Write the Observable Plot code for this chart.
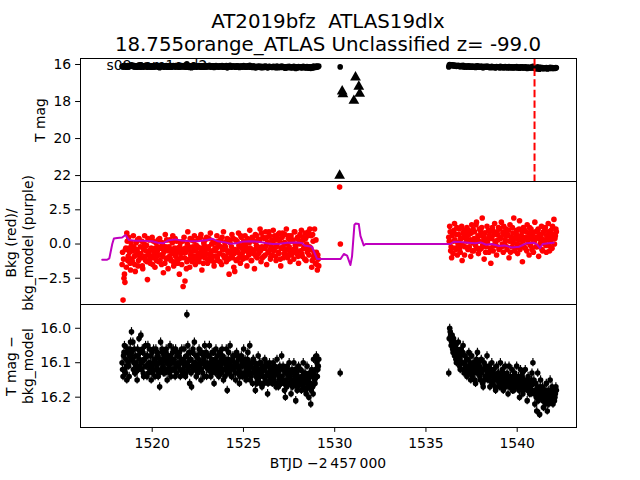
<!DOCTYPE html>
<html><head><meta charset="utf-8">
<script src="https://cdn.jsdelivr.net/npm/d3@7"></script>
<script src="https://cdn.jsdelivr.net/npm/@observablehq/plot@0.6"></script>
<style>
body{margin:0;background:#fff;}
#fig{position:relative;width:640px;height:480px;font-family:"DejaVu Sans",sans-serif;color:#000;overflow:hidden;background:#fff}
.pan{position:absolute;left:0}
.ylab{position:absolute;white-space:pre;text-align:center;font-size:13.9px;line-height:16.7px;transform:translate(-50%,-50%) rotate(-90deg)}
.title{position:absolute;left:328px;top:9.5px;transform:translateX(-50%);white-space:pre;text-align:center;font-size:19.8px;line-height:23px}
.xlab{position:absolute;left:328px;top:462.5px;transform:translate(-50%,-50%);white-space:pre;font-size:13.9px;line-height:16.7px}
</style></head><body><div id="fig"></div>
<script>
// ---------------- data ----------------
const titleLines = ["AT2019bfz  ATLAS19dlx", "18.755orange_ATLAS Unclassified z= -99.0"];
const sectorLabel = "s08 cam1ccd2";
const xLabel = "BTJD \u22122\u2009457\u2009000";

const seg1Start = 1518.35, seg1End = 1529.10;
const seg2Start = 1536.25, seg2End = 1542.12;

// T mag (and T mag - bkg_model), orbit 1, even cadences
const seg1Mag = [
16.10,16.14,16.07,16.12,16.09,16.15,16.06,16.11,16.08,16.04,
16.01,16.09,16.12,16.06,16.13,16.10,16.15,16.08,16.03,16.11,
16.02,16.12,16.07,16.14,16.09,16.05,16.11,16.08,16.13,16.06,
16.10,16.15,16.07,16.12,16.09,16.14,16.06,16.11,16.08,16.13,
16.17,16.04,16.10,16.07,16.13,16.09,16.12,16.06,16.15,16.08,
16.11,16.05,16.14,16.09,16.07,16.12,16.10,16.06,16.13,16.08,
16.11,16.07,16.14,16.09,16.10,16.12,16.06,16.10,16.13,15.96,
16.05,16.11,16.16,16.09,16.17,16.07,16.12,16.04,16.10,16.14,
16.08,16.12,16.06,16.10,16.15,16.07,16.13,16.09,16.05,16.11,
16.14,16.08,16.12,16.05,16.10,16.13,16.07,16.11,16.16,16.09,
16.06,16.12,16.10,16.14,16.07,16.11,16.13,16.08,16.15,16.10,
16.12,16.06,16.18,16.09,16.13,16.05,16.11,16.14,16.08,16.12,
16.10,16.15,16.07,16.13,16.09,16.16,16.11,16.08,16.14,16.10,
16.13,16.09,16.15,16.11,16.07,16.12,16.05,16.14,16.10,16.16,
16.09,16.13,16.18,16.11,16.15,16.08,16.12,16.14,16.10,16.17,
16.12,16.16,16.09,16.14,16.11,16.19,16.13,16.10,16.15,16.12,
16.16,16.10,16.14,16.12,16.17,16.09,16.13,16.15,16.11,16.14,
16.08,16.15,16.12,16.18,16.20,16.13,16.11,16.16,16.10,16.14,
16.19,16.12,16.16,16.10,16.14,16.21,16.13,16.17,16.11,16.15,
16.12,16.18,16.14,16.10,16.16,16.13,16.19,16.11,16.15,16.20,
16.14,16.22,16.12,16.17,16.09,16.15,16.12,16.08,16.14,16.11];
// orbit 1, odd cadences
const seg1MagB = [
16.12,16.08,16.05,16.13,16.11,16.07,16.10,16.14,16.06,16.09,
16.07,16.04,16.10,16.13,16.08,16.11,16.06,16.12,16.09,16.07,
16.10,16.06,16.13,16.09,16.11,16.08,16.14,16.05,16.10,16.12,
16.08,16.11,16.13,16.06,16.10,16.09,16.12,16.07,16.14,16.10,
16.09,16.12,16.06,16.11,16.08,16.13,16.07,16.10,16.12,16.09,
16.13,16.08,16.10,16.12,16.06,16.09,16.14,16.11,16.07,16.10,
16.08,16.12,16.10,16.06,16.13,16.09,16.11,16.14,16.08,16.10,
16.12,16.07,16.09,16.13,16.11,16.06,16.10,16.12,16.08,16.11,
16.13,16.09,16.11,16.07,16.12,16.10,16.08,16.14,16.11,16.07,
16.10,16.12,16.08,16.11,16.14,16.09,16.12,16.07,16.10,16.13,
16.11,16.08,16.13,16.10,16.12,16.09,16.06,16.12,16.10,16.14,
16.09,16.11,16.13,16.07,16.10,16.12,16.14,16.09,16.11,16.08,
16.13,16.11,16.10,16.08,16.12,16.14,16.09,16.13,16.11,16.06,
16.10,16.14,16.12,16.09,16.13,16.10,16.15,16.11,16.13,16.09,
16.12,16.10,16.14,16.16,16.12,16.13,16.10,16.16,16.13,16.11,
16.14,16.12,16.15,16.10,16.13,16.16,16.11,16.14,16.12,16.15,
16.13,16.15,16.11,16.16,16.13,16.12,16.17,16.14,16.12,16.16,
16.14,16.11,16.16,16.13,16.15,16.17,16.12,16.14,16.16,16.13,
16.15,16.17,16.13,16.16,16.12,16.15,16.18,16.14,16.16,16.12,
16.16,16.14,16.17,16.13,16.15,16.18,16.14,16.16,16.17,16.13,
16.16,16.18,16.14,16.19,16.13,16.16,16.14,16.10,16.12,16.09];

// orbit 2, even cadences
const seg2Mag = [
16.13,16.00,16.02,16.04,16.06,16.03,16.08,16.05,16.10,16.07,
16.04,16.09,16.12,16.06,16.10,16.05,16.13,16.08,16.11,16.14,
16.09,16.07,16.12,16.15,16.08,16.11,16.13,16.10,16.16,16.09,
16.07,16.13,16.11,16.15,16.09,16.12,16.17,16.10,16.14,16.12,
16.08,16.15,16.11,16.17,16.13,16.10,16.16,16.12,16.14,16.18,
16.11,16.15,16.13,16.17,16.10,16.14,16.12,16.18,16.15,16.11,
16.16,16.13,16.19,16.11,16.15,16.17,16.12,16.14,16.18,16.13,
16.15,16.11,16.17,16.14,16.20,16.12,16.16,16.13,16.18,16.15,
16.12,16.17,16.21,16.14,16.16,16.16,16.19,16.13,16.10,16.15,
16.22,16.16,16.24,16.13,16.18,16.25,16.15,16.20,16.17,16.23,
16.19,16.22,16.16,16.24,16.18,16.21,16.15,16.19,16.17,16.22,
16.18,16.20,16.17];
// orbit 2, odd cadences
const seg2MagB = [
16.03,16.01,16.05,16.02,16.07,16.04,16.06,16.09,16.06,16.08,
16.07,16.11,16.08,16.10,16.07,16.12,16.10,16.13,16.09,16.12,
16.11,16.13,16.10,16.12,16.14,16.10,16.12,16.15,16.11,16.13,
16.12,16.10,16.14,16.12,16.13,16.16,16.12,16.15,16.11,16.14,
16.13,16.12,16.15,16.14,16.12,16.16,16.13,16.15,16.17,16.14,
16.15,16.13,16.16,16.14,16.17,16.15,16.13,16.16,16.14,16.17,
16.14,16.16,16.15,16.17,16.14,16.16,16.18,16.15,16.16,16.17,
16.14,16.17,16.16,16.18,16.15,16.17,16.14,16.19,16.16,16.17,
16.17,16.15,16.18,16.16,16.19,16.17,16.15,16.18,16.16,16.19,
16.18,16.20,16.17,16.21,16.19,16.17,16.20,16.18,16.21,16.19,
16.20,16.18,16.21,16.19,16.22,16.20,16.18,16.21,16.19,16.20,
16.21,16.19,16.18];

const magErr = 0.012;

// background flux (red)
const seg1Bkg = [
-1.5,-4.1,-2.5,-2.8,-0.3,0.8,-1.2,0.5,-0.6,-1.9,
-0.2,-1.3,0.6,-0.9,-2.0,0.1,-0.5,-1.6,0.4,-1.0,
-0.7,0.2,-1.8,-0.4,0.6,-1.2,-0.1,-2.6,-0.8,0.3,
-1.4,-0.3,0.5,-1.0,-0.6,-1.7,0.1,-0.9,-0.2,-1.3,
0.4,-0.8,-1.5,-0.1,-2.1,-0.5,0.7,-1.1,-0.4,-1.8,
-0.2,0.3,-1.2,-0.7,0.6,-1.6,-0.3,-0.9,0.2,-1.4,
-0.5,-2.2,0.1,-1.0,-0.4,-3.1,0.5,-2.7,-0.6,-1.3,
0.9,-0.2,-1.7,-0.8,0.3,-1.1,-0.5,0.6,-1.5,-0.1,
-0.9,0.4,-1.3,-0.3,0.7,-1.9,-0.6,0.1,-1.0,-0.4,
0.5,-1.4,-0.2,-0.8,0.8,-1.1,-0.5,0.2,-1.6,-0.3,
-0.9,0.6,-1.2,-0.1,-0.7,0.3,-1.5,-0.4,0.9,-1.0,
-0.2,-1.3,0.4,-0.6,-2.2,0.1,-0.9,0.7,-0.4,-1.7,
-2.0,0.3,-0.5,-1.1,0.8,-0.2,-1.4,0.5,-0.7,-0.1,
-1.0,0.6,-0.3,-1.6,0.2,-0.8,1.0,-0.4,-1.2,0.4,
-0.6,-1.8,0.7,-0.1,-1.0,0.3,-0.5,1.1,-1.3,-0.2,
0.5,-0.9,-0.3,0.9,-1.5,0.1,-0.6,0.6,-1.1,-0.2,
-0.8,1.0,-0.4,0.3,-1.2,-0.1,0.7,-0.7,0.2,-1.6,
-0.3,0.8,-1.0,0.1,-0.5,1.1,-0.8,0.4,-0.2,-1.3,
0.6,-0.6,0.2,-1.1,0.9,-0.3,-0.7,0.5,-1.4,0.0,
-0.5,1.0,-0.9,0.3,-0.2,0.8,-1.2,-0.4,0.6,-0.8,
1.1,-0.3,-1.7,0.7,-0.9,1.1,-1.4,-0.6,-1.9,-1.1];
const seg1BkgB = [
-0.6,-1.1,-2.2,-0.4,-1.7,0.2,-0.9,-0.3,-1.4,0.1,
-1.1,-0.5,-0.2,-1.5,-0.8,-0.4,0.3,-1.2,-0.7,-0.2,
-1.0,-1.6,-0.3,0.0,-0.9,-0.5,-1.3,0.4,-0.6,-1.1,
-0.4,-0.9,-1.5,0.2,-0.7,-0.3,-1.2,-0.5,0.3,-0.8,
-1.2,-0.3,0.1,-0.9,-0.6,-1.4,-0.2,0.3,-1.0,-0.5,
-0.9,-1.1,-0.4,0.1,-1.3,-0.6,0.4,-0.8,-1.2,-0.3,
-1.1,-0.2,-0.7,-1.5,0.2,-0.6,-1.0,-0.3,-1.8,0.0,
-0.4,-1.1,0.4,-0.6,-1.3,-0.2,0.2,-0.9,-0.5,-1.2,
-0.2,-0.7,-1.0,0.5,-0.4,-0.8,-1.4,-0.1,0.3,-0.7,
-1.1,-0.3,0.4,-1.2,-0.6,0.0,-0.9,-1.3,0.1,-0.5,
-0.3,-1.0,0.2,-0.7,-1.3,-0.2,0.5,-0.8,-0.4,0.1,
-0.9,0.2,-0.5,-1.1,0.3,-0.6,-0.2,-1.0,0.4,-0.7,
-0.4,-1.2,0.2,-0.6,-0.1,-0.9,0.6,-0.3,-1.1,0.2,
-0.5,-0.1,-1.0,0.4,-0.6,0.1,-0.3,-1.2,0.5,-0.7,
0.2,-0.4,-0.9,0.6,-0.2,-0.7,0.3,-0.5,0.8,-1.0,
-0.3,0.4,-0.8,-0.1,0.5,-0.6,0.9,-0.4,-0.9,0.3,
0.1,-0.5,0.6,-0.9,-0.2,0.4,-0.6,0.8,-1.1,-0.3,
0.5,-0.2,-0.7,0.7,-0.4,0.0,-1.0,0.6,-0.5,0.2,
-0.8,0.3,-0.4,0.9,-0.1,-0.6,0.4,-0.9,0.1,0.7,
0.2,-0.7,0.5,-0.3,-1.1,0.4,0.0,-0.6,0.9,-0.2,
-0.4,0.6,-1.2,0.2,-0.6,-1.0,0.3,-1.5,-0.8,-1.6];

const seg2Bkg = [
0.5,1.3,-0.5,-1.0,0.9,0.2,1.5,-0.3,0.7,-0.8,
0.0,1.1,-0.6,0.4,-1.2,0.8,1.0,-0.2,0.5,1.2,
-0.4,0.7,0.2,-0.9,1.4,0.1,-0.5,0.9,-0.1,1.6,
0.3,-0.7,1.1,0.6,-0.3,1.9,0.2,-1.1,0.8,-0.2,
1.3,0.4,-0.6,0.9,-1.4,0.5,1.0,-0.1,1.5,0.2,
-0.8,0.7,1.2,-0.3,0.4,1.6,0.0,-0.6,0.9,0.3,
1.1,-0.4,0.6,-1.0,1.4,0.2,-0.2,0.8,1.9,-0.5,
0.5,1.0,-0.7,0.3,1.7,-0.1,0.6,-1.3,1.2,0.4,
-0.3,0.9,1.4,0.1,-0.8,0.6,1.1,-0.4,0.8,0.2,
1.6,-0.2,0.5,1.0,-0.9,0.7,0.3,1.3,-0.5,0.9,
0.1,1.2,-0.6,0.6,1.5,-0.1,0.4,1.0,-0.3,0.7,
1.8,0.4,1.1];
const seg2BkgB = [
0.2,0.9,-0.2,0.6,-0.7,1.0,0.3,-0.4,1.2,0.1,
0.7,-0.3,0.4,1.3,-0.1,0.5,-0.8,0.9,0.2,0.6,
1.0,-0.2,0.3,0.8,-0.5,1.1,0.4,0.0,1.4,-0.3,
0.6,0.2,-0.4,0.9,1.2,-0.1,0.5,0.8,-0.6,0.3,
0.1,1.0,0.6,-0.3,0.4,1.2,-0.5,0.7,0.2,-0.1,
0.9,0.3,-0.4,1.1,0.5,-0.2,0.8,1.3,0.0,0.6,
-0.2,0.7,1.0,0.2,-0.6,0.5,1.2,0.1,0.4,-0.3,
0.8,0.0,0.6,1.1,-0.4,0.3,0.9,0.2,-0.2,1.0,
0.5,-0.5,0.3,0.8,1.2,-0.1,0.4,0.7,-0.6,0.2,
0.9,0.4,-0.2,1.1,0.6,0.0,0.5,-0.4,0.8,0.3,
1.0,-0.1,0.6,0.3,0.9,-0.5,0.2,0.7,1.3,0.4,
0.0,0.6,0.9];

// isolated points in the gap
const gapT = [1530.30];
const gapMag = [16.13];
const gapBkgT = [1530.27, 1530.31];
const gapBkg = [4.16, 0.0];

// ATLAS points (triangles)
const atlasT = [1530.27, 1530.41, 1530.45, 1531.05, 1531.14, 1531.32, 1531.37];
const atlasMag = [22.0, 17.45, 17.6, 17.95, 16.69, 17.19, 17.58];

// background model (purple)
const modelT = [1517.26,1517.53,1517.65,1517.81,1517.9,1518.08,1518.35,1518.54,1518.72,1519.08,1519.5,1520.0,1520.3,1520.6,1520.9,1521.3,1521.6,1522.0,1522.5,1523.0,1523.3,1523.6,1524.0,1524.3,1524.6,1524.9,1525.3,1525.8,1526.3,1526.6,1527.0,1527.4,1527.9,1528.2,1528.35,1528.75,1529.04,1530.32,1530.5,1530.68,1530.86,1530.95,1531.08,1531.14,1531.32,1531.41,1531.59,1531.69,1536.34,1536.52,1536.9,1537.3,1537.7,1538.0,1538.3,1538.6,1539.0,1539.3,1539.7,1540.1,1540.5,1540.9,1541.1,1541.25,1541.4,1541.7,1542.0];
const modelV = [-1.15,-1.15,-1.05,0.0,0.4,0.44,0.48,0.66,0.3,0.24,0.24,0.2,0.1,0.05,0.28,0.34,0.26,0.22,0.2,0.3,0.38,0.2,0.12,0.02,0.05,0.17,0.2,0.17,0.05,0.0,0.02,0.1,0.12,0.08,-0.1,-0.2,-1.1,-1.1,-0.73,-0.85,-1.53,-0.9,1.4,1.5,1.46,0.6,-0.1,0.0,0.0,0.17,0.15,0.1,0.05,0.12,-0.05,0.0,-0.15,-0.1,-0.25,-0.2,0.05,0.1,-0.05,-0.3,0.0,0.05,0.1];

const discoveryT = [1540.95];

const xTicks = [1520, 1525, 1530, 1535, 1540];
const y1Ticks = [16, 18, 20, 22];
const y2Ticks = [-2.5, 0, 2.5];
const y3Ticks = [16.0, 16.1, 16.2];

// ---------------- build ----------------
function orbit(start, end, magA, magB, bkgA, bkgB) {
  const n = magA.length, step = (end - start) / (n - 1);
  const out = [];
  for (let i = 0; i < n; i++) {
    out.push({t: start + i * step, mag: magA[i], bkg: bkgA[i]});
    out.push({t: start + (i + 0.5) * step, mag: magB[i], bkg: bkgB[i]});
  }
  return out;
}
const lc = [
  ...orbit(seg1Start, seg1End, seg1Mag, seg1MagB, seg1Bkg, seg1BkgB),
  ...orbit(seg2Start, seg2End, seg2Mag, seg2MagB, seg2Bkg, seg2BkgB)
];
const gapPts = gapT.map((t, i) => ({t, mag: gapMag[i]}));
const lcAll = [...lc, ...gapPts];
const bkgPts = [...lc.map(d => ({t: d.t, v: d.bkg})), ...gapBkgT.map((t, i) => ({t, v: gapBkg[i]}))];
const atlas = atlasT.map((t, i) => ({t, mag: atlasMag[i]}));
const model = modelT.map((t, i) => ({t, v: modelV[i]}));

const fig = document.getElementById("fig");
const W = 640, ML = 80, MR = 64, PH = 123;
const xScale = {domain: [1516.07, 1543.25], axis: null};
const style = {fontFamily: "DejaVu Sans", fontSize: "13.9px", background: "transparent", overflow: "visible"};
const fmt1 = d => (d < 0 ? "\u2212" : "") + Math.abs(d).toFixed(1);
const axY = (ticks, tf) => Plot.axisY(ticks, {anchor: "left", tickSize: 4.9, tickPadding: 4.5, tickFormat: tf, label: null});

function place(svg, top) {
  svg.classList.add("pan");
  svg.style.top = top + "px";
  fig.appendChild(svg);
}

// Panel 1
place(Plot.plot({
  width: W, height: PH, marginLeft: ML, marginRight: MR, marginTop: 0, marginBottom: 0,
  style, x: xScale,
  y: {domain: [15.676, 22.32], reverse: true, axis: null},
  marks: [
    Plot.text([sectorLabel], {frameAnchor: "top-left", dx: 26, dy: 7.5, textAnchor: "start", lineAnchor: "middle", fontSize: 13.9, fill: "black"}),
    Plot.ruleX(lcAll, {x: "t", y1: d => d.mag - magErr, y2: d => d.mag + magErr, stroke: "black", strokeWidth: 1.2}),
    Plot.dot(lcAll, {x: "t", y: "mag", r: 2.8, fill: "black"}),
    Plot.dot(atlas, {x: "t", y: "mag", r: 4, symbol: "triangle", fill: "black"}),
    Plot.ruleX(discoveryT, {stroke: "red", strokeWidth: 2, strokeDasharray: "7.4,3.2"}),
    Plot.frame({stroke: "black", strokeWidth: 1}),
    axY(y1Ticks, d => String(d))
  ]
}), 58);

// Panel 2
place(Plot.plot({
  width: W, height: PH, marginLeft: ML, marginRight: MR, marginTop: 0, marginBottom: 0,
  style, x: xScale,
  y: {domain: [-4.42, 4.57], axis: null},
  marks: [
    Plot.dot(bkgPts, {x: "t", y: "v", r: 2.8, fill: "#ff0000"}),
    Plot.line(model, {x: "t", y: "v", stroke: "#bf00bf", strokeWidth: 2}),
    Plot.frame({stroke: "black", strokeWidth: 1}),
    axY(y2Ticks, fmt1)
  ]
}), 181);

// Panel 3
place(Plot.plot({
  width: W, height: PH + 40, marginLeft: ML, marginRight: MR, marginTop: 0, marginBottom: 40,
  style, x: xScale,
  y: {domain: [15.931, 16.288], reverse: true, axis: null},
  marks: [
    Plot.ruleX(lcAll, {x: "t", y1: d => d.mag - magErr, y2: d => d.mag + magErr, stroke: "black", strokeWidth: 1.2}),
    Plot.dot(lcAll, {x: "t", y: "mag", r: 2.8, fill: "black"}),
    Plot.frame({stroke: "black", strokeWidth: 1}),
    axY(y3Ticks, fmt1),
    Plot.axisX(xTicks, {anchor: "bottom", tickSize: 4.9, tickPadding: 5.5, tickFormat: d => String(d), label: null})
  ]
}), 304);

// Texts
const title = document.createElement("div");
title.className = "title";
title.textContent = titleLines.join("\n");
fig.appendChild(title);

function ylab(text, cx, cy) {
  const d = document.createElement("div");
  d.className = "ylab";
  d.textContent = text;
  d.style.left = cx + "px";
  d.style.top = cy + "px";
  fig.appendChild(d);
}
ylab("T mag", 39.5, 119.5);
ylab("Bkg (red)/\nbkg_model (purple)", 19.5, 242.5);
ylab("T mag \u2212\nbkg_model", 19.5, 365.5);

const xl = document.createElement("div");
xl.className = "xlab";
xl.textContent = xLabel;
fig.appendChild(xl);
</script></body></html>
